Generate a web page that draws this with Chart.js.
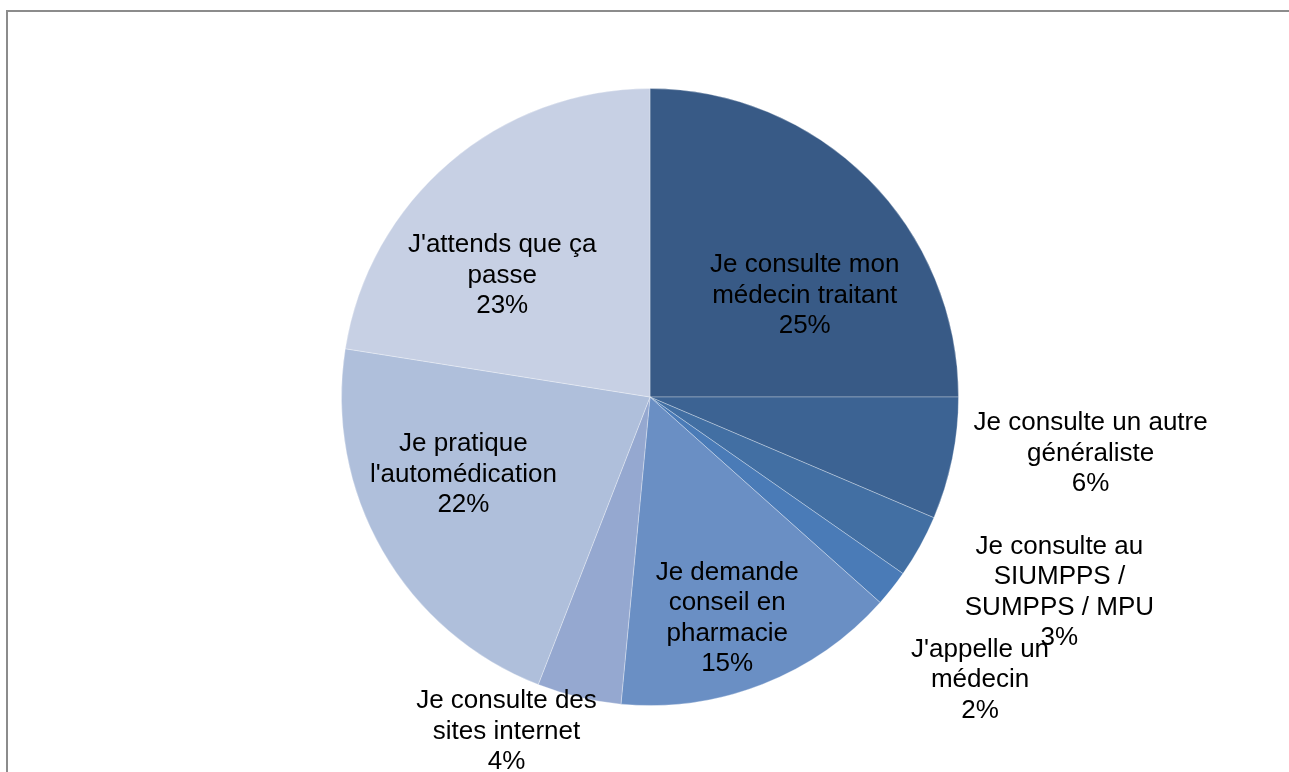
<!DOCTYPE html>
<html>
<head>
<meta charset="utf-8">
<script src="https://cdn.jsdelivr.net/npm/chart.js@4"></script>
<style>
  html, body { margin: 0; padding: 0; background: #fff; overflow: hidden; }
  #cadre { position: absolute; left: 6px; top: 10px; width: 1400px; height: 900px; border: 2px solid #8c8c8c; }
  #wrap { position: absolute; left: 0; top: 0; width: 1289px; height: 772px; }
</style>
</head>
<body>
<div id="cadre"></div>
<div id="wrap"><canvas id="myChart" width="1289" height="772"></canvas></div>
<script>
// donnees
const categories = [
  ["Je consulte mon", "médecin traitant"],
  ["Je consulte un autre", "généraliste"],
  ["Je consulte au", "SIUMPPS /", "SUMPPS / MPU"],
  ["J'appelle un", "médecin"],
  ["Je demande", "conseil en", "pharmacie"],
  ["Je consulte des", "sites internet"],
  ["Je pratique", "l'automédication"],
  ["J'attends que ça", "passe"]
];
const valeurs = [25.0, 6.4, 3.3, 1.9, 14.9, 4.4, 21.6, 22.5];
const couleurs = ["#385a86", "#3c6393", "#426fa3", "#4a7bb7", "#6a8fc4", "#95a8d0", "#afbfdb", "#c7d0e4"];

// placement des etiquettes : [facteur du rayon, decalage d'angle en degres]
const placement = [
  [0.60, 11.7],
  [1.44, -4.2],
  [1.47, -3.5],
  [1.41, 2.3],
  [0.76, 2.2],
  [1.18, 9.9],
  [0.655, 7.3],
  [0.62, -10.1]
];

const etiquettes = {
  id: "etiquettes",
  afterDatasetsDraw(chart) {
    const ctx = chart.ctx;
    const meta = chart.getDatasetMeta(0);
    ctx.save();
    ctx.font = "26px 'Liberation Sans', Arial, sans-serif";
    ctx.fillStyle = "#000";
    ctx.textAlign = "center";
    ctx.textBaseline = "middle";
    meta.data.forEach((arc, i) => {
      const p = arc.getProps(["x", "y", "startAngle", "endAngle", "outerRadius"], true);
      const ang = (p.startAngle + p.endAngle) / 2 + placement[i][1] * Math.PI / 180;
      const r = p.outerRadius * placement[i][0];
      const cx = p.x + Math.cos(ang) * r;
      const cy = p.y + Math.sin(ang) * r;
      const lignes = categories[i].concat([Math.round(valeurs[i]) + "%"]);
      const pas = 30.5;
      lignes.forEach((l, k) => {
        ctx.fillText(l, cx, cy + (k - (lignes.length - 1) / 2) * pas);
      });
    });
    ctx.restore();
  }
};

const ctx = document.getElementById("myChart");
new Chart(ctx, {
  type: "pie",
  data: {
    labels: categories.map(c => c.join(" ")),
    datasets: [
      {
        data: valeurs,
        backgroundColor: couleurs,
        borderColor: "rgba(255,255,255,0.3)",
        borderWidth: 1
      }
    ]
  },
  options: {
    responsive: false,
    animation: false,
    layout: {
      padding: { top: 88, bottom: 66, left: 11, right: 0 }
    },
    plugins: {
      legend: { display: false },
      tooltip: { enabled: false }
    }
  },
  plugins: [etiquettes]
});
</script>
</body>
</html>
